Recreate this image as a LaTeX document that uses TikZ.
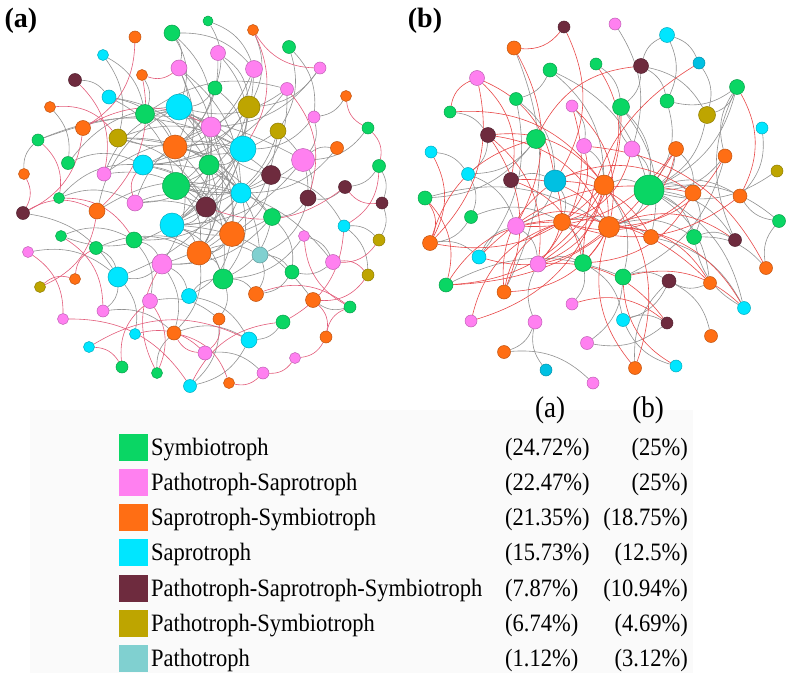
\documentclass[tikz,border=0pt]{standalone}
\usepackage{fontspec}
\setmainfont{Liberation Serif}
\newfontfamily\condfont[FakeStretch=0.9]{Liberation Serif}
\usetikzlibrary{backgrounds}
\definecolor{cSym}{RGB}{10,214,100}
\definecolor{cPaSa}{RGB}{255,128,240}
\definecolor{cSaSy}{RGB}{255,110,20}
\definecolor{cSap}{RGB}{0,230,255}
\definecolor{cDSap}{RGB}{0,192,226}
\definecolor{cPSS}{RGB}{110,43,62}
\definecolor{cPSy}{RGB}{190,165,0}
\definecolor{cPat}{RGB}{128,208,208}
\definecolor{cEdge}{RGB}{145,145,145}
\definecolor{cRedA}{RGB}{226,92,122}
\definecolor{cRedB}{RGB}{232,72,72}
\definecolor{cLegBg}{RGB}{250,250,250}

\begin{document}
\begin{tikzpicture}[x=1pt,y=-1pt,
   nd/.style={circle,inner sep=0pt,line width=0.5pt},
   gedge/.style={draw=cEdge,line width=0.6pt},
   redgea/.style={draw=cRedA,line width=0.6pt},
   redgeb/.style={draw=cRedB,line width=0.6pt},
   legbox/.style={rectangle,inner sep=0pt,minimum width=29pt,minimum height=27pt},
   lab/.style={inner sep=0pt,font=\condfont\fontsize{25}{30}\selectfont},
   panel/.style={inner sep=0pt,font=\bfseries\fontsize{28}{32}\selectfont}]
\useasboundingbox (0,0) rectangle (800,698);

\node[panel] (pa) at (21,21) {(a)};
\node[panel] (pb) at (425,21) {(b)};

\foreach \i/\x/\y/\s/\col in {1/208/21/10/cSym, 2/172/33/16/cSym, 3/253/30/11/cSaSy, 4/135/37/12/cSaSy, 5/103/55/11/cSap, 6/218/53/15/cPaSa, 7/289/47/13/cSym, 8/75/80/13/cPSS, 9/179/68/16/cPaSa, 10/254/69/17/cPaSa, 11/320/68/12/cPaSa, 12/142/75/11/cSaSy, 13/215/88/14/cSym, 14/287/89/13/cPaSa, 15/109/97/14/cSap, 16/50/107/11/cSaSy, 17/346/96/11/cSaSy, 18/179/107/26/cSap, 19/249/107/22/cPSy, 20/145/114/19/cSym, 21/314/117/12/cPaSa, 22/211/127/20/cPaSa, 23/83/128/15/cSaSy, 24/278/131/16/cPSy, 25/368/128/12/cSym, 26/118/138/18/cPSy, 27/38/140/12/cSym, 28/175/147/24/cSaSy, 29/243/149/26/cSap, 30/303/160/23/cPaSa, 31/337/148/13/cSaSy, 32/68/163/13/cSym, 33/143/165/20/cSap, 34/209/165/20/cSym, 35/379/166/13/cSym, 36/24/174/11/cSaSy, 37/104/174/14/cPaSa, 38/271/175/19/cPSS, 39/176/186/27/cSym, 40/345/187/13/cPSS, 41/241/193/20/cSap, 42/59/198/11/cSym, 43/308/198/16/cPSS, 44/23/213/13/cPSS, 45/135/203/16/cPaSa, 46/206/207/20/cPSS, 47/97/211/16/cSaSy, 48/382/203/12/cPSS, 49/272/217/17/cSym, 50/172/225/24/cSap, 51/232/234/25/cSaSy, 52/344/226/12/cSap, 53/61/236/11/cSym, 54/304/236/11/cPaSa, 55/379/240/12/cPSy, 56/134/240/16/cSym, 57/96/248/13/cSym, 58/28/252/11/cPaSa, 59/199/253/24/cSaSy, 60/260/255/16/cPat, 61/162/264/20/cPaSa, 62/333/262/15/cPaSa, 63/292/272/14/cSym, 64/368/275/12/cPSy, 65/118/277/20/cSap, 66/223/279/20/cSym, 67/40/287/11/cPSy, 68/75/279/11/cSaSy, 69/256/294/15/cSaSy, 70/189/296/15/cSap, 71/150/301/15/cPaSa, 72/313/300/15/cSaSy, 73/350/307/12/cSym, 74/103/311/12/cPaSa, 75/63/319/11/cPaSa, 76/219/319/12/cSaSy, 77/283/322/14/cSym, 78/135/334/11/cSap, 79/174/333/14/cSaSy, 80/326/337/12/cSaSy, 81/249/340/16/cSap, 82/89/347/11/cSap, 83/205/353/14/cPaSa, 84/295/358/11/cPaSa, 85/122/367/12/cSym, 86/157/373/11/cSym, 87/263/373/12/cPaSa, 88/190/386/13/cSap, 89/229/383/11/cSaSy}
  \node[nd,fill=\col,draw=\col!75!black,minimum size=\s pt] (a_\i) at (\x,\y) {};

\foreach \i/\x/\y/\s/\col in {1/564/27/12/cPSS, 2/615/24/12/cPaSa, 3/514/48/14/cSaSy, 4/667/35/15/cSap, 5/550/70/14/cSym, 6/596/64/12/cSym, 7/641/66/15/cPSS, 8/699/63/12/cDSap, 9/477/78/15/cPaSa, 10/737/87/15/cSym, 11/516/99/13/cSym, 12/572/106/12/cPaSa, 13/621/107/17/cSym, 14/667/101/14/cSym, 15/707/115/17/cPSy, 16/450/112/12/cSym, 17/762/128/12/cSap, 18/488/135/15/cPSS, 19/536/139/19/cSym, 20/584/146/15/cPaSa, 21/632/149/16/cPaSa, 22/676/149/15/cSaSy, 23/431/152/12/cSap, 24/725/156/14/cSaSy, 25/777/171/12/cPSy, 26/468/174/13/cSap, 27/511/180/15/cPSS, 28/555/181/22/cDSap, 29/604/185/20/cSaSy, 30/649/190/30/cSym, 31/693/193/16/cSaSy, 32/740/196/14/cSaSy, 33/425/198/14/cSym, 34/471/217/13/cSym, 35/516/226/17/cPaSa, 36/562/222/17/cSaSy, 37/609/227/21/cSaSy, 38/779/221/13/cSym, 39/651/237/15/cSaSy, 40/694/237/15/cSym, 41/735/240/13/cPSS, 42/430/243/15/cSaSy, 43/479/257/14/cSap, 44/538/264/16/cPaSa, 45/583/263/17/cSym, 46/766/268/13/cSaSy, 47/623/277/16/cSym, 48/669/281/14/cPSS, 49/446/285/14/cSym, 50/504/292/14/cSaSy, 51/710/283/13/cSaSy, 52/744/308/13/cSap, 53/572/304/12/cPaSa, 54/471/321/12/cPaSa, 55/535/322/14/cPaSa, 56/623/320/13/cSap, 57/667/323/12/cPSS, 58/711/336/13/cSaSy, 59/587/343/13/cPaSa, 60/504/352/13/cSaSy, 61/546/370/12/cDSap, 62/635/368/13/cSaSy, 63/676/366/12/cSap, 64/593/383/12/cPaSa}
  \node[nd,fill=\col,draw=\col!75!black,minimum size=\s pt] (b_\i) at (\x,\y) {};

\begin{pgfonlayer}{background}
\fill[cLegBg] (30,410) rectangle (693,673);
\foreach \u/\v in {2/9, 2/18, 2/22, 2/10, 1/10, 1/13, 6/19, 6/28, 6/29, 9/28, 9/39, 9/34, 10/22, 10/33, 10/50, 11/19, 11/22, 13/18, 13/29, 14/18, 14/33, 15/39, 15/28, 5/20, 7/21, 7/24, 17/21, 21/29, 21/30, 19/39, 19/50, 19/33, 18/34, 18/41, 18/51, 18/46, 20/28, 20/29, 20/14, 22/39, 22/50, 22/59, 22/26, 24/28, 24/46, 24/59, 26/29, 26/41, 26/49, 27/29, 27/30, 28/38, 28/41, 28/66, 28/61, 29/39, 29/50, 29/65, 30/31, 30/39, 30/50, 30/43, 25/30, 32/18, 32/33, 33/46, 33/49, 34/50, 34/51, 34/60, 34/59, 35/40, 35/48, 37/46, 37/29, 38/39, 38/51, 38/52, 39/46, 39/51, 39/59, 39/62, 40/43, 41/50, 41/56, 41/66, 42/33, 43/49, 44/65, 45/51, 45/46, 45/22, 46/59, 47/18, 47/41, 48/55, 49/50, 49/63, 49/61, 50/59, 50/66, 50/53, 50/72, 51/59, 51/61, 51/70, 52/55, 52/64, 53/56, 54/66, 56/59, 56/71, 57/59, 58/65, 59/60, 59/79, 59/66, 60/63, 60/69, 61/65, 61/70, 62/63, 63/69, 65/74, 65/78, 66/69, 66/76, 70/66, 73/72, 74/79, 77/81, 79/81, 81/88, 83/87, 86/79, 16/32, 36/27, 12/20, 3/19, 8/15, 31/41, 43/60, 54/62, 71/76, 76/88, 57/65, 42/45, 5/26, 9/41, 13/33, 14/41, 20/22, 26/46, 33/51, 34/45, 37/18, 38/22, 41/61, 46/50, 56/61, 15/34, 29/34, 19/28, 24/43, 49/66, 61/79, 70/81}
  \draw[gedge] (a_\u) to[bend left=24] (a_\v);
\foreach \u/\v in {4/23, 3/29, 8/37, 12/47, 23/44, 44/47, 67/68, 68/57, 75/88, 82/81, 85/71, 86/61, 88/77, 62/64, 25/35, 40/46, 52/77, 72/80, 69/73, 23/22, 16/26, 45/33, 42/56, 53/74, 78/83, 79/89, 84/87, 87/89, 80/84, 55/62, 14/43, 48/40, 73/54, 64/72, 71/86, 76/83, 9/12, 36/44, 58/75, 27/42, 47/67, 82/85, 83/79, 80/73, 35/52, 25/17, 11/3}
  \draw[redgea] (a_\u) to[bend left=28] (a_\v);
\foreach \u/\v in {3/50, 5/30, 5/29, 6/13, 7/14, 7/13, 7/15, 7/4, 4/14, 4/8, 8/15, 10/30, 10/14, 10/15, 13/30, 13/39, 14/30, 15/30, 11/28, 11/43, 16/18, 18/26, 19/26, 19/33, 20/29, 21/30, 21/13, 22/30, 22/31, 24/30, 24/47, 24/10, 17/32, 25/30, 26/34, 26/35, 23/26, 27/28, 28/36, 28/35, 29/30, 29/47, 30/31, 30/32, 30/38, 30/40, 30/41, 30/37, 30/52, 30/51, 33/37, 34/36, 35/44, 36/45, 37/40, 38/32, 40/41, 40/46, 41/10, 42/43, 43/35, 44/45, 45/53, 45/56, 47/59, 47/48, 48/56, 48/58, 49/47, 52/40, 55/60, 55/44, 56/57, 57/59, 60/64, 61/55, 62/48, 36/39, 31/40, 39/52, 2/21, 12/20, 5/11, 34/42, 63/56, 46/38, 51/48}
  \draw[gedge] (b_\u) to[bend left=24] (b_\v);
\foreach \u/\v in {1/3, 1/28, 9/42, 9/27, 9/28, 16/29, 18/29, 18/37, 18/44, 18/50, 19/7, 12/37, 12/44, 20/36, 21/36, 22/35, 22/37, 22/49, 24/37, 10/32, 13/44, 27/37, 27/45, 28/39, 28/44, 28/29, 28/31, 29/42, 29/44, 29/49, 29/54, 29/45, 29/62, 35/37, 35/51, 37/41, 37/51, 37/52, 37/43, 37/50, 31/45, 31/36, 32/36, 33/42, 44/57, 53/57, 45/8, 42/19, 49/36, 50/28, 50/36, 62/37, 63/47, 47/52, 23/42, 33/49, 16/9, 6/29, 3/35, 54/36, 43/31, 20/46}
  \draw[redgeb] (b_\u) to[bend left=28] (b_\v);
\end{pgfonlayer}

\node[lab,font=\condfont\fontsize{30}{34}\selectfont] (ha) at (550,410) {(a)};
\node[lab,font=\condfont\fontsize{30}{34}\selectfont] (hb) at (648,410) {(b)};

\foreach \i/\col/\txt/\pa/\pb in {1/cSym/Symbiotroph/24.72/25, 2/cPaSa/Pathotroph-Saprotroph/22.47/25, 3/cSaSy/Saprotroph-Symbiotroph/21.35/18.75, 4/cSap/Saprotroph/15.73/12.5, 5/cPSS/Pathotroph-Saprotroph-Symbiotroph/7.87/10.94, 6/cPSy/Pathotroph-Symbiotroph/6.74/4.69, 7/cPat/Pathotroph/1.12/3.12}
{
  \node[legbox,fill=\col] (l_\i) at (133,{447+35.3*(\i-1)}) {};
  \node[lab,anchor=base west] (t_\i) at (151,{455+35.3*(\i-1)}) {\txt};
  \node[lab,anchor=base west] (p_\i) at (505,{455+35.3*(\i-1)}) {(\pa\%)};
  \node[lab,anchor=base east] (q_\i) at (688,{455+35.3*(\i-1)}) {(\pb\%)};
}
\end{tikzpicture}
\end{document}
